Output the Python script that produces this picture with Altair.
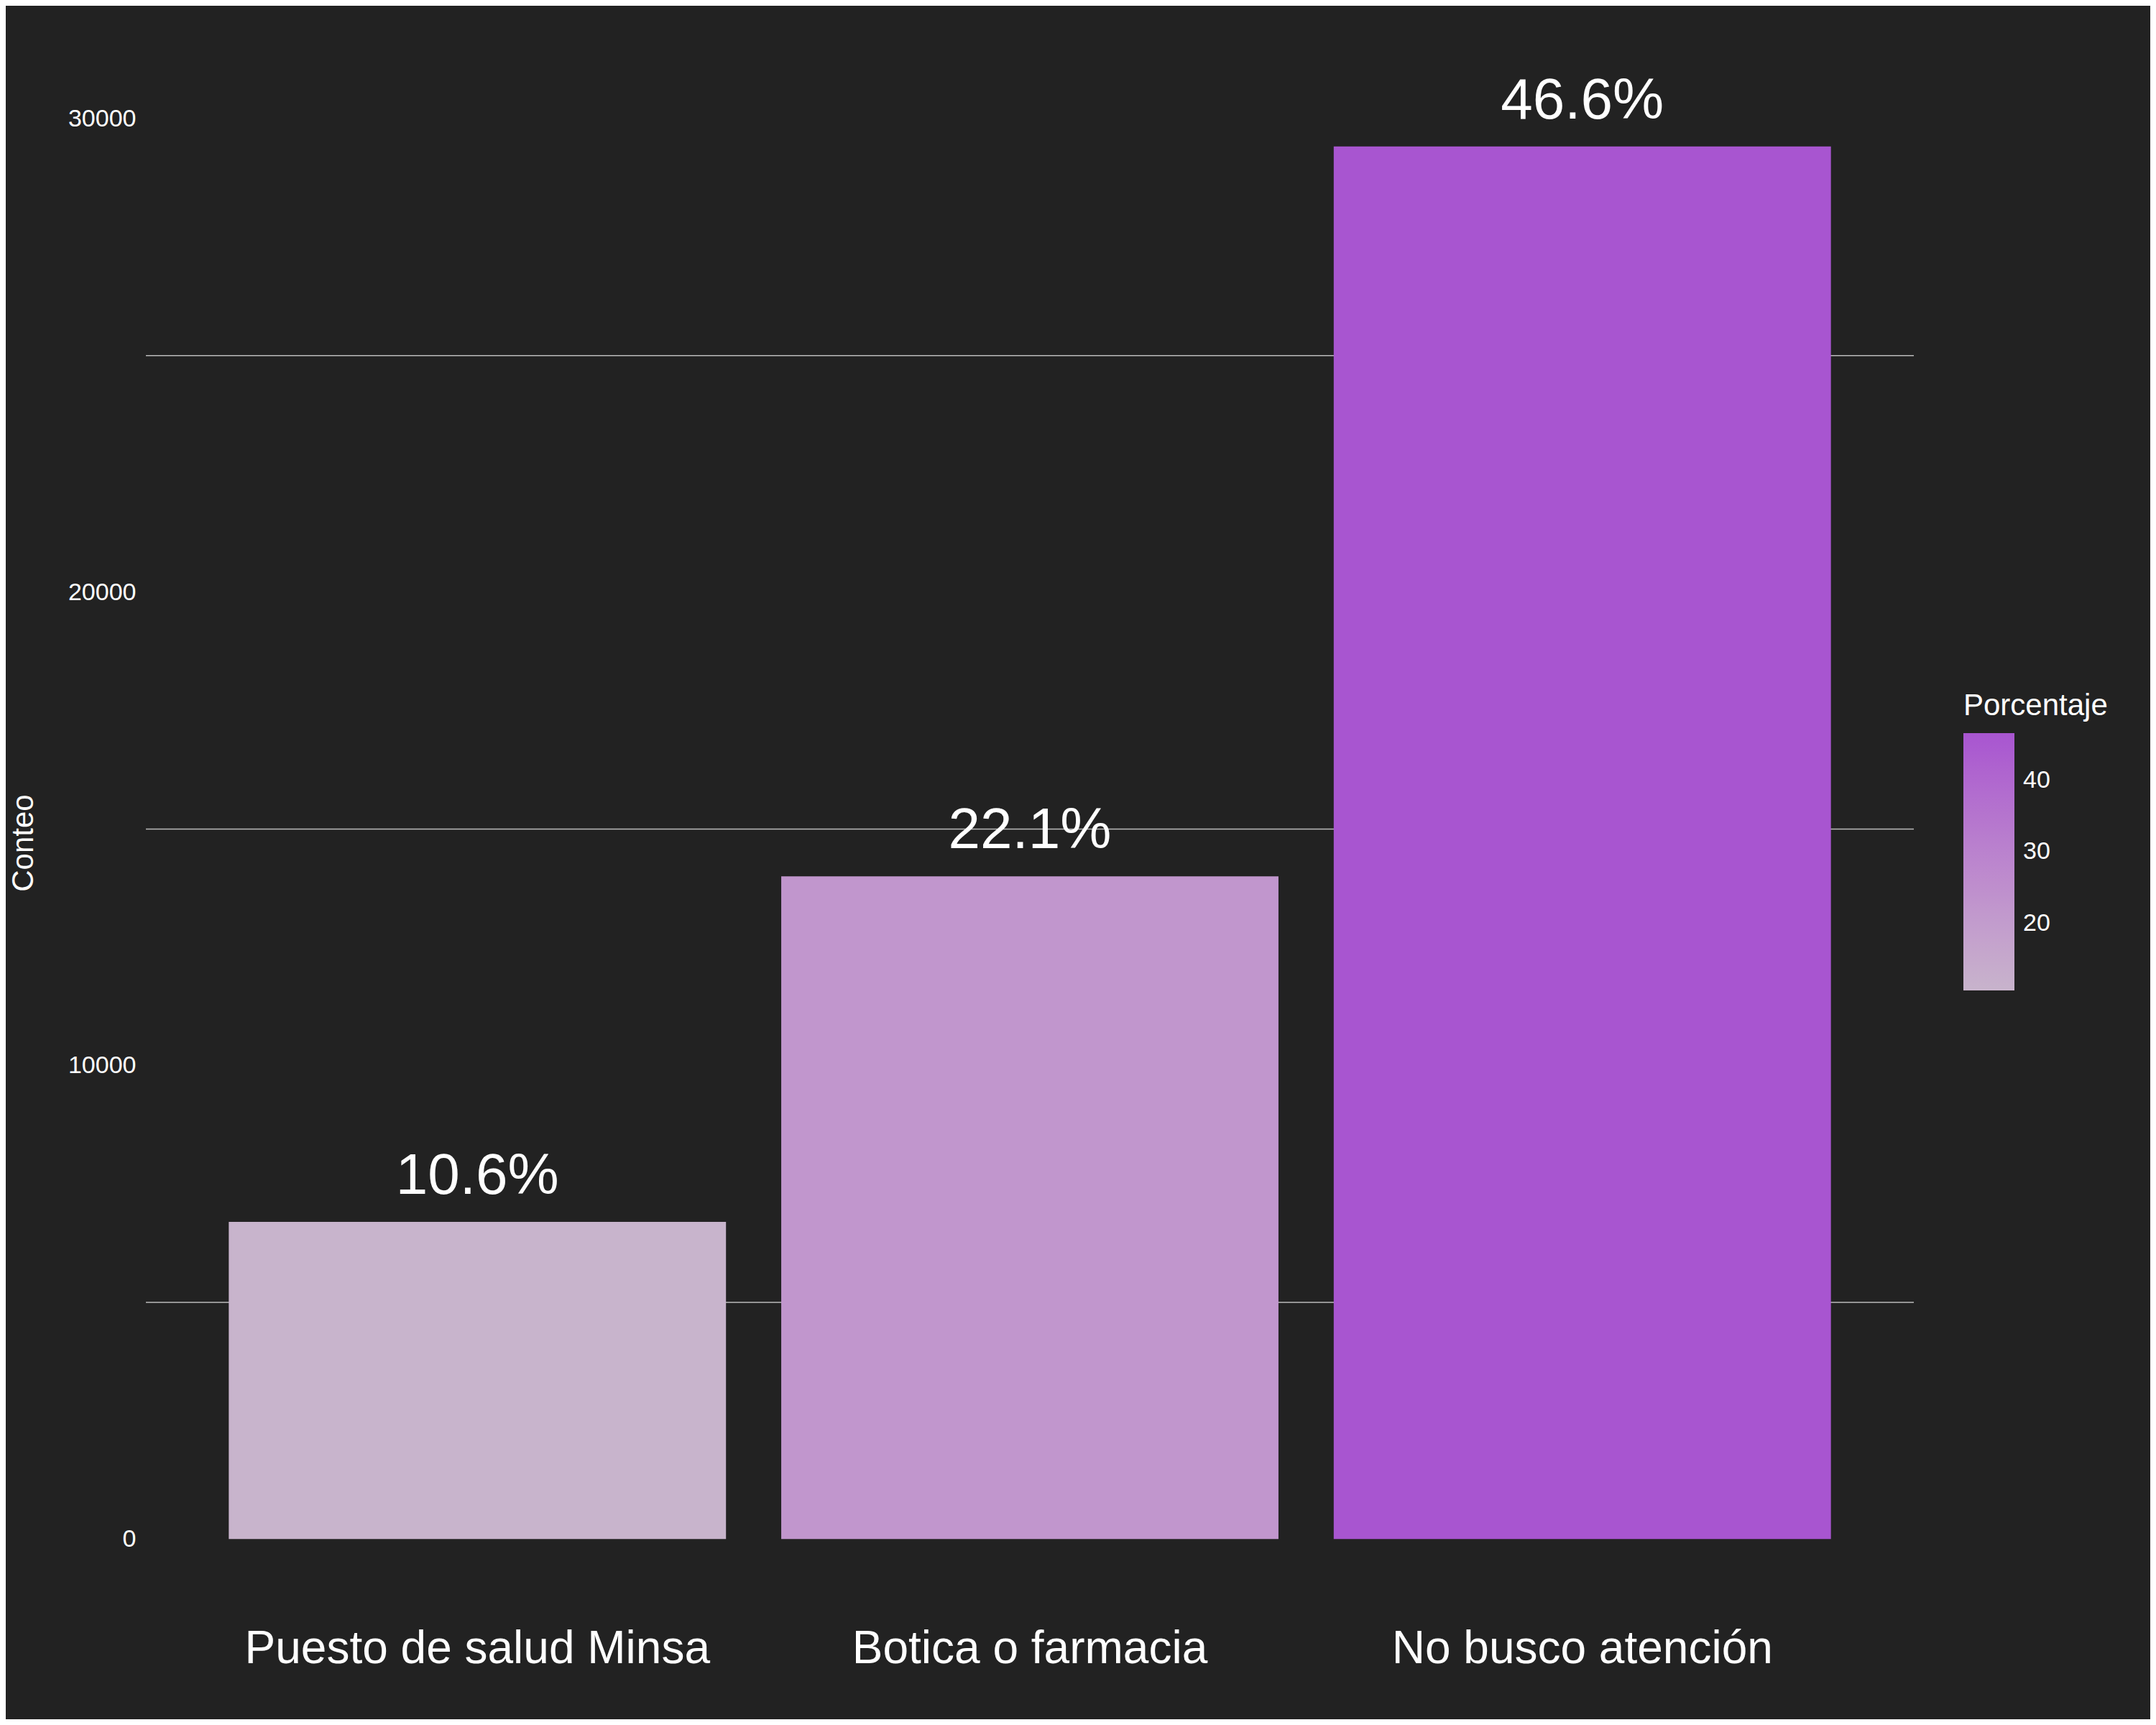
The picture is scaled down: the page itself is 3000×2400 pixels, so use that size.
import altair as alt
import pandas as pd

categorias = ["Puesto de salud Minsa", "Botica o farmacia", "No busco atención"]
conteos = [6700, 14000, 29420]
porcentajes = [10.6, 22.1, 46.6]
etiquetas = ["10.6%", "22.1%", "46.6%"]
grid_vals = [5000, 15000, 25000]

df = pd.DataFrame({"Categoria": categorias, "Conteo": conteos,
                   "Porcentaje": porcentajes, "Etiqueta": etiquetas})
grid = pd.DataFrame({"g": grid_vals})

yscale = alt.Scale(domain=[-1470, 30890], nice=False, zero=False)
xenc = alt.X("Categoria:N", sort=categorias, title=None,
             scale=alt.Scale(paddingInner=0.1, paddingOuter=0.15),
             axis=alt.Axis(labelFontSize=64, labelColor="white", labelAngle=0,
                           domain=False, ticks=False, labelPadding=24, labelLimit=0,
                           labelFont="Liberation Sans"))

reglas = alt.Chart(grid).mark_rule(color="#bbbbbb", strokeWidth=1.5).encode(
    y=alt.Y("g:Q", scale=yscale)
)

barras = alt.Chart(df).mark_bar().encode(
    x=xenc,
    y=alt.Y("Conteo:Q", scale=yscale, title="Conteo",
            axis=alt.Axis(values=[0, 10000, 20000, 30000], format="d", grid=False,
                          domain=False, ticks=False, labelFontSize=34, labelColor="white",
                          titleColor="white", titleFontSize=42, titleFontWeight="normal",
                          titlePadding=40, labelPadding=14, labelFont="Liberation Sans",
                          titleFont="Liberation Sans")),
    y2=alt.datum(0),
    color=alt.Color("Porcentaje:Q",
                    scale=alt.Scale(range=["#c8b4cc", "#a855d0"]),
                    legend=alt.Legend(orient="none", legendX=2529, legendY=855,
                                      gradientLength=358, gradientThickness=71,
                                      values=[20, 30, 40], titleFontSize=42,
                                      labelFontSize=34, titleColor="white",
                                      labelColor="white", titleFontWeight="normal",
                                      titleLimit=0, labelLimit=0, labelOffset=12,
                                      titleFont="Liberation Sans", labelFont="Liberation Sans",
                                      gradientStrokeWidth=0, titlePadding=16)),
)

textos = alt.Chart(df).mark_text(baseline="bottom", dy=-22, fontSize=80,
                                 color="white", font="Liberation Sans").encode(
    x=alt.X("Categoria:N", sort=categorias),
    y=alt.Y("Conteo:Q", scale=yscale),
    text="Etiqueta:N",
)

chart = alt.layer(reglas, barras, textos).properties(
    width=2460, height=2131, background="#222222",
    autosize=alt.AutoSizeParams(type="none"),
    padding={"left": 195, "top": 99, "right": 329, "bottom": 154},
).configure_view(stroke=None)

chart.save("out.html", embed_options={"renderer": "svg", "actions": False})
